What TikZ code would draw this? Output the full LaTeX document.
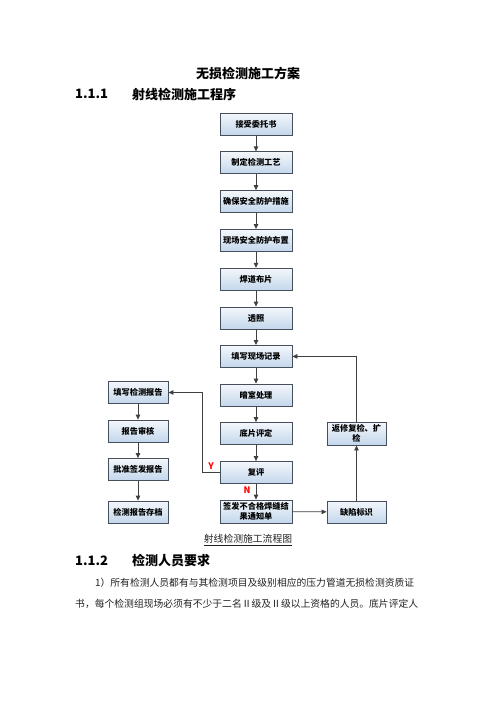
\documentclass[tikz,border=0pt]{standalone}
\usepackage{fontspec}
\setmainfont{Noto Sans CJK SC}
\usetikzlibrary{arrows.meta}
\definecolor{boxtop}{HTML}{F4F7FB}
\definecolor{boxbot}{HTML}{C3D7EC}
\definecolor{boxline}{HTML}{46505C}
\definecolor{arrowc}{HTML}{404040}
\definecolor{txt}{HTML}{222222}
\tikzset{
  flowbox/.style={draw=boxline, line width=0.8pt, top color=boxtop, bottom color=boxbot,
    minimum height=22pt, inner sep=1pt, align=center,
    font=\fontsize{8.2}{9.5}\selectfont\bfseries, text=black},
  cbox/.style={flowbox, minimum width=72pt, text width=70pt},
  lbox/.style={flowbox, minimum width=60pt, text width=58pt},
  rbox/.style={flowbox, minimum width=59pt, text width=57pt},
  conn/.style={draw=arrowc, line width=0.8pt, -{Triangle[length=5pt,width=4.5pt]}},
  lab/.style={text=red, font=\fontsize{9}{10}\selectfont\bfseries, inner sep=0pt},
  head/.style={anchor=west, inner sep=0pt, font=\fontsize{13}{15}\selectfont\bfseries, text=black},
  body/.style={anchor=west, inner sep=0pt, font=\fontsize{9.8}{12}\selectfont, text=txt}
}
\begin{document}
\begin{tikzpicture}[x=1pt,y=-1pt]
\useasboundingbox (0,0) rectangle (496,702);
\fill[white] (0,0) rectangle (496,702);
% headings
\node[inner sep=0pt, font=\fontsize{13}{15}\selectfont\bfseries] (title) at (248,73) {无损检测施工方案};
\node[head] (h1num) at (75,94) {1.1.1};
\node[head] (h1) at (132,94) {射线检测施工程序};
% center column
\node[cbox] (c1) at (256,124) {接受委托书};
\node[cbox] (c2) at (256,162.8) {制定检测工艺};
\node[cbox] (c3) at (256,201.6) {确保安全防护措施};
\node[cbox] (c4) at (256,240.4) {现场安全防护布置};
\node[cbox] (c5) at (256,279.2) {焊道布片};
\node[cbox] (c6) at (256,318) {透照};
\node[cbox] (c7) at (256,356.4) {填写现场记录};
\node[cbox] (c8) at (256,395) {暗室处理};
\node[cbox] (c9) at (256,433.5) {底片评定};
\node[cbox] (c10) at (256,472.5) {复评};
\node[cbox, minimum height=23pt] (c11) at (256,511.5) {签发不合格焊缝结\\果通知单};
% left column
\node[lbox] (l1) at (138,392.5) {填写检测报告};
\node[lbox] (l2) at (138,431) {报告审核};
\node[lbox] (l3) at (138,469.5) {批准签发报告};
\node[lbox] (l4) at (138,512) {检测报告存档};
% right column
\node[rbox, minimum height=23pt] (r1) at (356.5,433.5) {返修复检、扩\\检};
\node[rbox] (r2) at (356.5,512) {缺陷标识};
% connectors
\foreach \a/\b in {c1/c2,c2/c3,c3/c4,c4/c5,c5/c6,c6/c7,c7/c8,c8/c9,c9/c10,c10/c11,l1/l2,l2/l3,l3/l4,r2/r1}
  \draw[conn] (\a) -- (\b);
\draw[conn] (c11) -- (r2);
\coordinate (yc1) at (202,472.5);
\coordinate (yc2) at (202,392.5);
\draw[conn] (c10.west) -- (yc1) -- (yc2) -- (l1.east);
\coordinate (fb) at (356.5,356.4);
\draw[conn] (r1.north) -- (fb) -- (c7.east);
\node[lab] (ylab) at (211,466.5) {Y};
\node[lab] (nlab) at (247,490.5) {N};
% caption and text
\node[inner sep=0pt, font=\fontsize{9.8}{12}\selectfont, text=txt] (cap) at (248,539) {射线检测施工流程图};
\draw[txt, line width=0.5pt] (cap.south west) ++(0,1.5) -- ([yshift=-1.5pt]cap.south east);
\node[head] (h2num) at (75,561) {1.1.2};
\node[head] (h2) at (132,561) {检测人员要求};
\node[body] (p1) at (95,583) {1）所有检测人员都有与其检测项目及级别相应的压力管道无损检测资质证};
\node[body] (p2) at (75,604) {书，每个检测组现场必须有不少于二名Ⅱ级及Ⅱ级以上资格的人员。底片评定人};
\end{tikzpicture}
\end{document}
